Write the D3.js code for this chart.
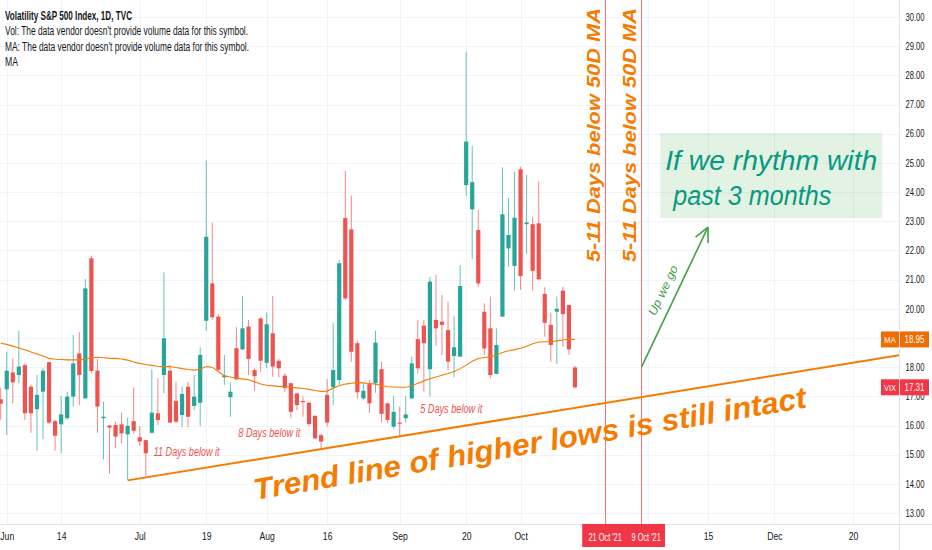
<!DOCTYPE html>
<html>
<head>
<meta charset="utf-8">
<script src="https://cdn.jsdelivr.net/npm/d3@7"></script>
<style>
  body { margin: 0; background: #fff; }
  svg { display: block; }
  text { font-family: "Liberation Sans", Arial, sans-serif; }
</style>
</head>
<body>
<div id="chart"></div>
<script>
/*** data: VIX daily candles, 28 May 2021 .. 14 Oct 2021 ***/
const opens = [16.90,17.24,17.82,17.73,18.07,17.33,16.56,17.16,18.17,16.15,
  16.04,16.25,16.99,18.47,16.93,21.73,17.88,16.25,16.00,16.02,
  16.04,15.70,16.15,15.60,15.50,15.75,16.42,17.73,17.88,16.84,
  16.36,17.33,16.67,16.78,19.59,20.87,19.73,17.65,16.97,18.65,
  18.61,19.39,17.90,19.67,18.15,19.16,18.22,17.71,17.45,17.10,
  16.84,16.78,16.33,15.67,17.05,17.31,17.56,23.11,22.72,18.82,
  16.93,17.42,17.45,17.93,16.76,15.96,16.10,16.25,16.93,18.96,
  19.42,17.93,19.62,19.56,19.27,18.38,18.36,24.24,23.41,22.70,
  19.90,19.33,17.77,19.73,22.07,21.47,24.78,22.90,22.90,22.93,
  20.51,19.45,19.90,20.62,20.13,17.99];
const highs = [17.30,18.53,18.30,19.25,18.13,17.39,17.73,17.96,18.19,16.19,
  17.01,17.16,19.10,19.20,21.02,21.82,18.28,16.82,16.02,16.13,
  16.44,16.27,17.30,15.98,15.50,17.93,17.62,21.25,18.07,17.50,
  17.33,17.50,17.73,18.68,25.08,22.95,19.82,18.42,17.47,19.37,
  20.44,19.62,17.96,19.71,19.87,20.44,18.27,17.79,17.47,17.12,
  16.99,16.82,16.36,15.73,17.60,19.53,21.67,24.73,23.88,18.91,
  17.47,17.56,19.25,18.19,16.78,17.01,16.65,17.01,18.36,19.62,
  19.62,21.10,21.16,20.47,20.24,19.75,21.50,28.81,25.58,23.39,
  20.19,20.42,19.33,24.85,23.79,24.70,24.87,24.59,23.16,24.36,
  20.74,19.87,20.42,20.76,20.13,18.05];
const lows = [16.20,15.67,16.76,17.45,16.19,15.75,15.14,15.53,16.05,15.14,
  15.05,16.19,16.65,16.70,16.93,17.79,15.75,14.84,14.35,15.22,
  15.39,14.13,15.73,15.30,14.25,15.73,16.02,17.11,16.08,16.08,
  15.94,15.94,16.53,15.98,19.25,19.62,17.88,17.39,16.30,17.56,
  18.59,17.73,17.19,17.84,17.96,17.67,17.65,17.16,16.25,16.53,
  16.30,15.98,15.53,15.22,15.96,16.70,17.39,20.30,18.19,16.93,
  16.88,16.44,17.12,16.10,16.08,15.90,15.67,16.10,16.90,17.79,
  17.16,16.99,18.73,18.41,17.90,17.65,18.36,23.87,21.70,20.74,
  18.42,17.62,17.77,19.73,21.44,20.62,20.64,21.88,20.62,20.99,
  19.04,18.19,18.11,18.70,18.42,17.28];
const closes = [16.75,17.88,17.48,18.02,16.42,16.42,17.05,17.88,16.10,15.65,
  16.38,16.99,18.13,17.73,20.70,17.87,16.65,16.30,15.93,15.62,
  15.73,15.99,15.82,15.45,15.05,16.44,16.19,18.99,16.10,16.13,
  17.08,16.30,16.99,18.42,22.47,19.71,17.91,17.72,17.16,17.58,
  19.33,18.28,17.69,18.22,19.47,18.02,17.96,17.28,16.47,16.70,
  16.80,16.05,15.56,15.45,16.10,17.90,21.56,20.36,18.53,17.14,
  17.19,16.76,18.84,16.40,16.19,16.47,16.06,16.38,18.13,17.96,
  18.82,20.93,19.33,19.45,18.19,18.68,20.78,25.73,24.34,20.87,
  18.64,17.73,18.76,23.24,22.53,23.12,21.12,22.96,21.30,21.01,
  19.52,18.76,20.00,19.82,18.61,17.31];
// 50 day moving average as drawn
const maValues = [18.82,18.78,18.72,18.66,18.60,18.52,18.45,18.38,18.30,18.27,
  18.26,18.25,18.25,18.25,18.27,18.32,18.34,18.32,18.30,18.30,
  18.28,18.24,18.18,18.13,18.09,18.06,18.03,18.02,18.02,17.99,
  17.95,17.92,17.90,17.93,18.02,18.00,17.85,17.70,17.66,17.62,
  17.60,17.57,17.50,17.42,17.38,17.36,17.34,17.33,17.31,17.29,
  17.27,17.24,17.20,17.17,17.18,17.28,17.36,17.42,17.45,17.47,
  17.46,17.44,17.42,17.38,17.33,17.32,17.31,17.31,17.36,17.45,
  17.53,17.60,17.66,17.72,17.78,17.85,17.95,18.07,18.20,18.30,
  18.33,18.36,18.42,18.50,18.56,18.60,18.65,18.72,18.80,18.86,
  18.87,18.87,18.90,18.93,18.96,18.95];

const priceTicks = [13,14,15,16,17,18,19,20,21,22,23,24,25,26,27,28,29,30];
const timeTickIdx = [1,10,23,34,44,54,66,77,86,117,128,141];
const timeTickLabels = ["Jun","14","Jul","19","Aug","16","Sep","20","Oct","15","Dec","20"];
const gridIdx = [1,10,23,34,44,54,66,77,86,107,117,128,141];

// drawings, in (bar index, price)
const trendLine = [[21, 14.12], [149, 18.42]];
const markerIdx = [100, 106];
const markerLabels = ["21 Oct '21", "9 Oct '21"];
const arrowFrom = [106, 18.0];
const arrowTo = [117, 22.8];
const rhythmBox = [[109.1, 26.02], [145.8, 23.11]];
const rhythmLines = ["If we rhythm with", "past 3 months"];
const belowTexts = ["11 Days below it", "8 Days below it", "5 Days below it"];
const belowAt = [[25.3, 14.96], [39.3, 15.61], [69.4, 16.43]];
const belowWidths = [66, 62, 62];

/*** layout ***/
const width = 932, height = 550;
const plotW = 899, plotH = 524;
const upColor = "#26a69a", downColor = "#ef5350";
const orange = "#f57c00";

const x = d3.scaleLinear().domain([-0.116, 148.6]).range([0, plotW]);
const y = d3.scaleLinear().domain([12.625, 30.583]).range([plotH, 0]);

function squeeze(sel, k) {
  sel.each(function() {
    const w = this.getComputedTextLength();
    d3.select(this).attr("textLength", w * k).attr("lengthAdjust", "spacingAndGlyphs");
  });
}
function fitTo(sel, w) {
  sel.attr("textLength", w).attr("lengthAdjust", "spacingAndGlyphs");
}

const svg = d3.select("#chart").append("svg")
  .attr("width", width).attr("height", height)
  .attr("viewBox", [0, 0, width, height]);

svg.append("defs").append("clipPath").attr("id", "plot")
  .append("rect").attr("width", plotW).attr("height", plotH);

// grid
const grid = svg.append("g").attr("stroke", "#f0f3fa").attr("shape-rendering", "crispEdges");
grid.selectAll(".hg").data(priceTicks).join("line")
  .attr("x1", 0).attr("x2", plotW)
  .attr("y1", d => Math.round(y(d)) + 0.5).attr("y2", d => Math.round(y(d)) + 0.5);
grid.selectAll(".vg").data(gridIdx).join("line")
  .attr("y1", 0).attr("y2", plotH)
  .attr("x1", d => Math.round(x(d)) + 0.5).attr("x2", d => Math.round(x(d)) + 0.5);

const plot = svg.append("g").attr("clip-path", "url(#plot)");

// header legend
const legend = svg.append("g").attr("fill", "#131722").attr("font-size", 12);
legend.append("text").attr("x", 5).attr("y", 19.5).attr("font-weight", "bold")
  .text("Volatility S&P 500 Index, 1D, TVC").call(fitTo, 127);
legend.append("text").attr("x", 5).attr("y", 35)
  .text("Vol: The data vendor doesn't provide volume data for this symbol.").call(fitTo, 243);
legend.append("text").attr("x", 5).attr("y", 50.5)
  .text("MA: The data vendor doesn't provide volume data for this symbol.").call(fitTo, 244);
legend.append("text").attr("x", 5).attr("y", 66).text("MA").call(fitTo, 13);

// candles
const bars = d3.range(closes.length);
const candles = plot.append("g");
candles.selectAll("line").data(bars).join("line")
  .attr("x1", i => x(i)).attr("x2", i => x(i))
  .attr("y1", i => y(highs[i])).attr("y2", i => y(lows[i]))
  .attr("stroke", i => closes[i] >= opens[i] ? upColor : downColor)
  .attr("stroke-opacity", 0.7)
  .attr("stroke-width", 1);
candles.selectAll("rect").data(bars).join("rect")
  .attr("x", i => x(i) - 2.1).attr("width", 4.2)
  .attr("y", i => y(Math.max(opens[i], closes[i])))
  .attr("height", i => Math.max(1, Math.abs(y(opens[i]) - y(closes[i]))))
  .attr("fill", i => closes[i] >= opens[i] ? upColor : downColor);

// moving average
plot.append("path")
  .datum(maValues)
  .attr("fill", "none").attr("stroke", orange).attr("stroke-width", 1.1)
  .attr("d", d3.line().x((d, i) => x(i)).y(d => y(d)));

// marker lines
plot.selectAll(".marker").data(markerIdx).join("line")
  .attr("x1", d => Math.round(x(d)) + 0.5).attr("x2", d => Math.round(x(d)) + 0.5)
  .attr("y1", 0).attr("y2", plotH)
  .attr("stroke", "#f4737c").attr("stroke-width", 1);

// "5-11 Days below 50D MA" notes
markerIdx.forEach(d => {
  plot.append("text")
    .attr("transform", `translate(${x(d) - 5.5},${y(21.6)}) rotate(-90)`)
    .attr("font-family", "DejaVu Sans").attr("font-weight", "bold").attr("font-style", "italic")
    .attr("font-size", 18).attr("fill", orange)
    .text("5-11 Days below 50D MA").call(fitTo, 254);
});

// trend line of higher lows
const [t0, t1] = trendLine;
plot.append("line")
  .attr("x1", x(t0[0])).attr("y1", y(t0[1]))
  .attr("x2", x(t1[0])).attr("y2", y(t1[1]))
  .attr("stroke", orange).attr("stroke-width", 2);
const angle = Math.atan2(y(t1[1]) - y(t0[1]), x(t1[0]) - x(t0[0])) * 180 / Math.PI;
plot.append("text")
  .attr("transform", `translate(${x(42.1)},${y(13.45)}) rotate(${angle - 0.3})`)
  .attr("font-family", "DejaVu Sans").attr("font-weight", "bold").attr("font-style", "italic")
  .attr("font-size", 30).attr("fill", orange)
  .text("Trend line of higher lows is still intact").call(fitTo, 560);

// days below labels
plot.selectAll(".below").data(belowTexts).join("text")
  .attr("x", (d, k) => x(belowAt[k][0])).attr("y", (d, k) => y(belowAt[k][1]))
  .attr("font-size", 12).attr("font-style", "italic").attr("fill", "#ef5350")
  .text(d => d)
  .each(function(d, k) { d3.select(this).call(fitTo, belowWidths[k]); });

// rhythm box
const [b0, b1] = rhythmBox;
plot.append("rect")
  .attr("x", x(b0[0])).attr("y", y(b0[1]))
  .attr("width", x(b1[0]) - x(b0[0])).attr("height", y(b1[1]) - y(b0[1]))
  .attr("fill", "#4caf50").attr("fill-opacity", 0.16);
plot.selectAll(".rhythm").data(rhythmLines).join("text")
  .attr("x", (d, k) => x(b0[0]) + (k ? 13 : 5))
  .attr("y", (d, k) => y(b0[1]) + (k ? 72 : 37))
  .attr("font-family", "DejaVu Sans").attr("font-style", "italic")
  .attr("font-size", 27).attr("fill", "#089981")
  .text(d => d)
  .each(function(d, k) { d3.select(this).call(fitTo, k ? 158 : 212); });

// up we go arrow
const ax0 = x(arrowFrom[0]), ay0 = y(arrowFrom[1]), ax1 = x(arrowTo[0]), ay1 = y(arrowTo[1]);
const arrowAng = Math.atan2(ay1 - ay0, ax1 - ax0);
const arrow = plot.append("g").attr("stroke", "#43a047").attr("stroke-width", 1.6).attr("fill", "none");
arrow.append("line").attr("x1", ax0).attr("y1", ay0).attr("x2", ax1).attr("y2", ay1);
[-0.45, 0.45].forEach(da => {
  arrow.append("line")
    .attr("x1", ax1).attr("y1", ay1)
    .attr("x2", ax1 - 16 * Math.cos(arrowAng + da))
    .attr("y2", ay1 - 16 * Math.sin(arrowAng + da));
});
const mx = (ax0 + ax1) / 2, my = (ay0 + ay1) / 2;
plot.append("text")
  .attr("transform", `translate(${mx - 8},${my - 5}) rotate(${arrowAng * 180 / Math.PI})`)
  .attr("text-anchor", "middle")
  .attr("font-size", 12).attr("font-style", "italic").attr("fill", "#43a047")
  .text("Up we go").call(fitTo, 54);

// axes
svg.append("line").attr("x1", 0).attr("x2", width).attr("y1", plotH + 0.5).attr("y2", plotH + 0.5)
  .attr("stroke", "#e0e3eb");
svg.append("line").attr("x1", plotW + 0.5).attr("x2", plotW + 0.5).attr("y1", 0).attr("y2", height)
  .attr("stroke", "#e0e3eb");

const yAxis = svg.append("g")
  .attr("transform", `translate(${plotW},0)`)
  .call(d3.axisRight(y).tickValues(priceTicks).tickFormat(d3.format(".2f")).tickSize(0).tickPadding(16));
yAxis.select(".domain").remove();
yAxis.selectAll("text")
  .attr("text-anchor", "middle").attr("fill", "#131722").attr("font-size", 10)
  .attr("font-family", "Liberation Sans").call(fitTo, 19);

const xAxis = svg.append("g")
  .attr("transform", `translate(0,${plotH})`)
  .call(d3.axisBottom(x).tickValues(timeTickIdx).tickFormat((d, k) => timeTickLabels[k]).tickSize(0).tickPadding(9));
xAxis.select(".domain").remove();
xAxis.selectAll("text")
  .attr("fill", "#131722").attr("font-size", 10.5).attr("font-family", "Liberation Sans")
  .call(squeeze, 0.82);

// date markers on the time axis (later one first, earlier drawn over it)
const dateBoxes = svg.append("g");
[1, 0].forEach(k => {
  const cx = x(markerIdx[k]);
  const x0 = k ? cx - 14 : cx - 23;
  const x1 = k ? cx + 23.5 : cx + 23;
  dateBoxes.append("rect").attr("x", x0).attr("y", plotH).attr("width", x1 - x0).attr("height", 23)
    .attr("fill", "#f23645");
  dateBoxes.append("text")
    .attr("x", k ? x0 + 4 : cx).attr("y", plotH + 16.5)
    .attr("text-anchor", k ? "start" : "middle").attr("fill", "#fff").attr("font-size", 10)
    .text(markerLabels[k]).call(squeeze, 0.74);
});

// last value labels
function priceLabel(name, value, color) {
  const g = svg.append("g").attr("transform", `translate(0,${y(value)})`);
  g.append("rect").attr("x", 881).attr("y", -8).attr("width", 18).attr("height", 16).attr("fill", color);
  g.append("rect").attr("x", 900).attr("y", -8).attr("width", 29).attr("height", 16).attr("fill", color);
  g.append("text").attr("x", 890).attr("y", 3.5).attr("text-anchor", "middle")
    .attr("font-size", 9.5).attr("fill", "#fff").text(name).call(squeeze, 0.8);
  g.append("text").attr("x", 914.5).attr("y", 3.5).attr("text-anchor", "middle")
    .attr("font-size", 10).attr("fill", "#fff").text(d3.format(".2f")(value)).call(fitTo, 20);
}
priceLabel("MA", maValues[maValues.length - 1], "#ef6c00");
priceLabel("VIX", closes[closes.length - 1], "#f23645");
</script>
</body>
</html>
